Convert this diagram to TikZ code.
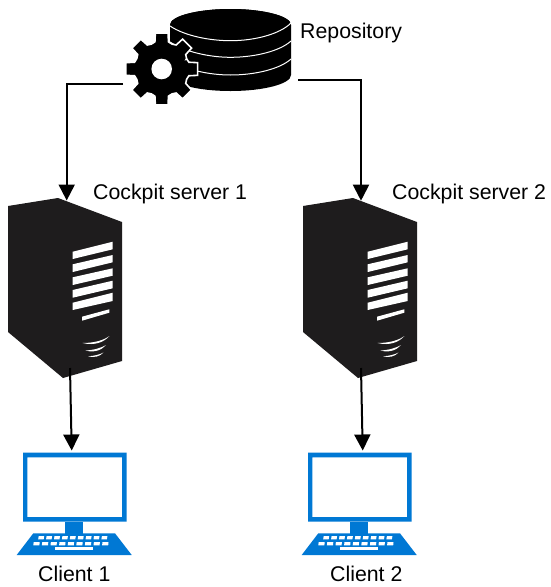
\documentclass[tikz,border=0pt]{standalone}
\usepackage{fontspec}
\setmainfont{Liberation Sans}
\usetikzlibrary{arrows.meta}
\definecolor{srv}{HTML}{1E1C1D}
\definecolor{pcblue}{HTML}{0078D4}
\tikzset{
  lbl/.style={inner sep=0pt,anchor=base west,font=\fontsize{21.3}{24}\selectfont,text=black},
  conn/.style={draw=black,line width=2pt,-{Triangle[length=16pt,width=16pt]}},
  anchorbox/.style={inner sep=0pt,outer sep=0pt},
  pics/serverbox/.style={code={
    \fill[srv] (8,206) -- (58,198) -- (122,222) -- (122,361) -- (63,378) -- (8,332) -- cycle;
    \fill[white]
      (72.7,251.7) -- (112.7,241.7) -- (112.7,249.3) -- (72.7,259) -- cycle
      (72.7,264.3) -- (112.7,255) -- (112.7,262.3) -- (72.7,272) -- cycle
      (72.7,277.3) -- (112.7,268.3) -- (112.7,275.7) -- (72.7,285) -- cycle
      (72.7,290) -- (112.7,280.7) -- (112.7,288.3) -- (72.7,297.7) -- cycle
      (72.7,302.7) -- (112.7,292.7) -- (112.7,301) -- (72.7,310) -- cycle
      (82,316.7) -- (109.3,309.3) -- (109.3,312.7) -- (82,320.7) -- cycle
      (82.5,343) .. controls (95,343) and (104,340) .. (109.5,336) .. controls (104,342) and (95,346) .. (82.5,343) -- cycle
      (85.5,350.5) .. controls (94,350) and (101,348) .. (106,345) .. controls (102,350) and (94,353) .. (85.5,350.5) -- cycle
      (88,356.3) .. controls (94,356) and (100,354.5) .. (103.5,352.5) .. controls (100,356.5) and (94,358) .. (88,356.3) -- cycle;
  }},
  pics/clientbox/.style={code={
    \fill[pcblue,even odd rule] (23,452.7) rectangle (126.7,521.7) (27.3,457.3) rectangle (122,517);
    \fill[pcblue] (65,521.7) rectangle (83.3,534);
    \fill[pcblue] (33.3,533.3) -- (115,533.3) -- (131.7,555) -- (16.7,555) -- cycle;
    \foreach \i in {0,...,8}{
      \fill[white] ({38.7+\i*7.9},536) -- ({44.2+\i*7.9},536) -- ({43.7+\i*7.9},539.3) -- ({38.2+\i*7.9},539.3) -- cycle;
      \fill[white] ({33.7+\i*8.6},542) -- ({39.7+\i*8.6},542) -- ({39.4+\i*8.6},545.3) -- ({33.3+\i*8.6},545.3) -- cycle;
    }
    \fill[white] (55,546.7) rectangle (92.7,550);
  }},
}
\begin{document}
\begin{tikzpicture}[x=1pt,y=-1pt]
\fill[white] (0,0) rectangle (550,587);
\useasboundingbox (0,0) rectangle (550,587);
% repository
\fill[black] (170,25) arc[x radius=60.5,y radius=16,start angle=180,end angle=360] -- (291,75)
  arc[x radius=60.5,y radius=16,start angle=0,end angle=180] -- cycle;
\fill[black] (230.5,25) ellipse[x radius=60.5,y radius=16];
\draw[white,line width=1pt] (170,26) .. controls (185,36) and (210,40.7) .. (230.5,40.7) .. controls (255,40.7) and (280,34) .. (291,23);
\draw[white,line width=1pt] (170,42) .. controls (185,52) and (210,57.3) .. (230.5,57.3) .. controls (255,57.3) and (280,51) .. (291,41);
\draw[white,line width=1pt] (170,60) .. controls (185,70) and (210,75) .. (230.5,75) .. controls (255,75) and (280,69) .. (291,59);
% gear
\node[anchorbox,minimum size=72pt] (gear) at (161.7,69) {};
\begin{scope}[shift={(161.7,69)}]
\fill[black,draw=white,line width=1.6pt]
  (-22:26.5)
  \foreach \a in {0,45,...,315}{
    -- (\a-22:27) -- (\a-14:28) -- (\a-10:36.5) -- (\a+10:36.5) -- (\a+14:28) -- (\a+22:27)
  } -- cycle;
\fill[white] (0,0) circle[radius=10.3];
\end{scope}
% servers
\pic {serverbox};
\pic[xshift=295pt] {serverbox};
\pic {clientbox};
\pic[xshift=285pt] {clientbox};
% anchors for connectors
\coordinate (repoL) at (123,84);
\coordinate (repoR) at (298,80);
\coordinate (srvAtop) at (66.7,200.5);
\coordinate (srvBtop) at (361,200.7);
\coordinate (srvAbot) at (70,368);
\coordinate (srvBbot) at (361,368);
\coordinate (cliAtop) at (71.7,450.5);
\coordinate (cliBtop) at (362.7,450.5);
\draw[conn] (repoL) -| (srvAtop);
\draw[conn] (repoR) -| (srvBtop);
\draw[conn] (srvAbot) -- (cliAtop);
\draw[conn] (srvBbot) -- (cliBtop);
% labels
\node[lbl] (repo) at (300,38) {Repository};
\node[lbl] (srvAl) at (93,199) {Cockpit server 1};
\node[lbl] (srvBl) at (392,199) {Cockpit server 2};
\node[lbl] (cliAl) at (38,581) {Client 1};
\node[lbl] (cliBl) at (330,581) {Client 2};
\end{tikzpicture}
\end{document}
